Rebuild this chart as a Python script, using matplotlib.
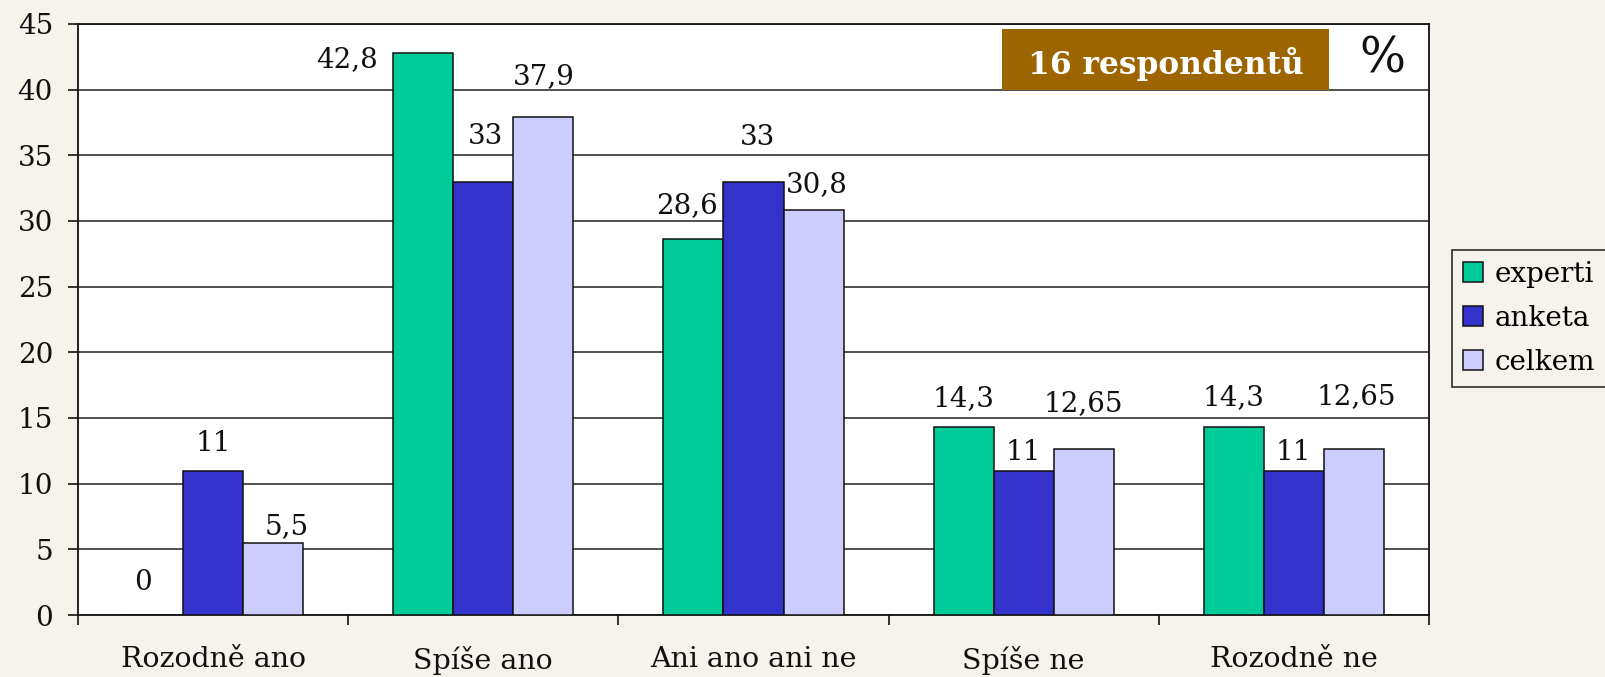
import matplotlib
matplotlib.use("Agg")
import matplotlib.pyplot as plt
import matplotlib.patches as mpatches
import numpy as np

plt.rcParams['font.family'] = ['DejaVu Serif', 'Liberation Serif']

categories = ["Rozodně ano", "Spíše ano", "Ani ano ani ne", "Spíše ne", "Rozodně ne"]
series_names = ["experti", "anketa", "celkem"]
experti = [0, 42.8, 28.6, 14.3, 14.3]
anketa = [11, 33, 33, 11, 11]
celkem = [5.5, 37.9, 30.8, 12.65, 12.65]
label_experti = ["0", "42,8", "28,6", "14,3", "14,3"]
label_anketa = ["11", "33", "33", "11", "11"]
label_celkem = ["5,5", "37,9", "30,8", "12,65", "12,65"]
yticks = [0, 5, 10, 15, 20, 25, 30, 35, 40, 45]

colors = ["#00CC99", "#3333CC", "#CCCCFF"]
# label offsets in pixels relative to bar top centre (dx, dy up)
off_experti = [(-10, 33), (-76, -7), (-6, 34), (0, 29), (0, 30)]
off_anketa = [(0, 27), (2, 45), (4, 44), (0, 18), (-1, 18)]
off_celkem = [(14, 16), (0, 41), (3, 26), (0, 45), (2, 52)]

W, H = 1605, 677
bg = "#f5f3ec"
fig = plt.figure(figsize=(W / 100, H / 100), dpi=100, facecolor=bg)
L, R, T, B = 78, 1429, 24, 615
ax = fig.add_axes([L / W, 1 - B / H, (R - L) / W, (B - T) / H])
ax.set_facecolor("white")

x = np.arange(len(categories))
bw = 60 / 270
data = [experti, anketa, celkem]
labels = [label_experti, label_anketa, label_celkem]
offs = [off_experti, off_anketa, off_celkem]
handles = []
for i, (vals, lab, off) in enumerate(zip(data, labels, offs)):
    xs = x + (i - 1) * bw
    bars = ax.bar(xs, vals, width=bw, color=colors[i], edgecolor="#111111",
                  linewidth=1.1, zorder=3, label=series_names[i])
    handles.append(bars)
    for xx, v, t, (dx, dy) in zip(xs, vals, lab, off):
        ax.annotate(t, (xx, v), xytext=(dx, dy), textcoords="offset pixels",
                    ha="center", va="center", fontsize=20, color="#111111", zorder=4)

ax.set_xlim(-0.5, len(categories) - 0.5)
ax.set_ylim(0, 45)
ax.set_yticks(yticks)
ax.set_yticklabels([str(v) for v in yticks], fontsize=20, color="#111111")
ax.yaxis.grid(True, color="#222222", linewidth=1.1, zorder=1)
ax.set_axisbelow(True)
ax.set_xticks(x)
ax.set_xticklabels(categories, fontsize=20.5, color="#111111")
ax.set_xticks(np.arange(len(categories) + 1) - 0.5, minor=True)
ax.tick_params(axis="x", which="major", length=0, pad=22)
ax.tick_params(axis="x", which="minor", length=7, width=1.2, color="#111111", direction="out")
ax.tick_params(axis="y", length=7, width=1.2, color="#111111", pad=11)
for s in ax.spines.values():
    s.set_color("#111111")
    s.set_linewidth(1.3)

# annotation box
fig.patches.append(mpatches.Rectangle((1002 / W, 1 - 90 / H), 327 / W, 61 / H,
                                      transform=fig.transFigure, facecolor="#9C6500",
                                      edgecolor="none", zorder=5))
fig.text(1166 / W, 1 - 74 / H, "16 respondentů", ha="center", va="baseline",
         fontsize=22.5, fontweight="bold", color="white", zorder=6)
fig.text(1382 / W, 1 - 59 / H, "%", ha="center", va="center", fontsize=35,
         color="#111111", zorder=6)

leg = fig.legend(handles=handles, labels=series_names, loc="upper left",
                 bbox_to_anchor=(1452 / W, 1 - 250 / H), fontsize=20,
                 frameon=True, fancybox=False, handlelength=0.72, handleheight=0.72,
                 handletextpad=0.45, labelspacing=0.62, borderpad=0.38,
                 borderaxespad=0)
leg.get_frame().set_facecolor(bg)
leg.get_frame().set_edgecolor("#111111")
leg.get_frame().set_linewidth(1.3)
for p in leg.get_patches():
    p.set_edgecolor("#111111")
    p.set_linewidth(1.1)

fig.savefig("out.png", dpi=100, facecolor=bg)
